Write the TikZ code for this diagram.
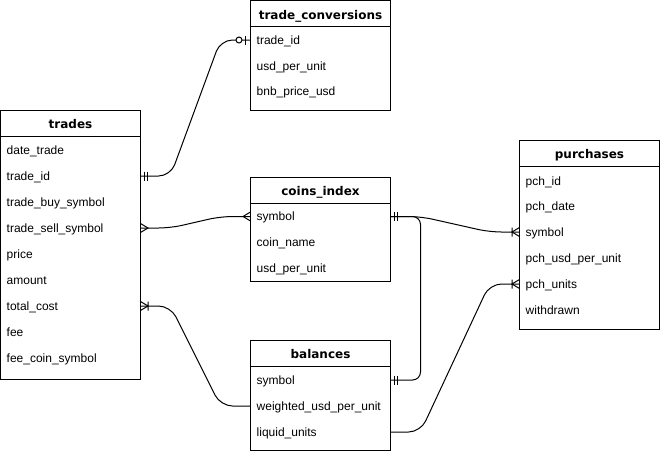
\documentclass[tikz,border=0pt]{standalone}
\usepackage{fontspec}
\setmainfont{Liberation Sans}
\newfontfamily\ttlfont{DejaVu Sans}
\usetikzlibrary{calc}
\tikzset{
  hdr/.style={draw, line width=1pt, fill=white, minimum width=140pt, minimum height=26pt, inner sep=0pt, outer sep=0pt, anchor=north west},
  tbody/.style={draw, line width=1pt, fill=white, minimum width=140pt, inner sep=0pt, outer sep=0pt, anchor=north},
  ttl/.style={anchor=base, inner sep=0pt, font=\ttlfont\bfseries\fontsize{12}{14}\selectfont},
  rowtxt/.style={anchor=west, inner sep=0pt, text height=9pt, text depth=1pt, font=\fontsize{12}{14}\selectfont},
  conn/.style={draw, line width=1pt, rounded corners=12pt},
  mk/.style={line width=1pt},
  mandone/.pic={\draw[mk] (3.8,-4.5)--(3.8,4.5) (7.3,-4.5)--(7.3,4.5);},
  crowmany/.pic={\draw[mk] (0,-4.5)--(7.5,0)--(0,4.5);},
  onemany/.pic={\draw[mk] (0,-4.5)--(7.5,0)--(0,4.5) (7.5,-4.5)--(7.5,4.5);},
  zeroone/.pic={\draw[mk] (5,-4.5)--(5,4.5); \draw[mk, fill=white] (11.5,0) circle (3pt);},
}
\begin{document}
\begin{tikzpicture}[x=1pt, y=-1pt]
\useasboundingbox (0,0) rectangle (661,451);

% trade_conversions
\node[hdr] (tc-h) at (250.5,0.5) {};
\node[tbody, minimum height=84pt] (tc) at (tc-h.south) {};
\node[ttl] (tc-t) at ($(tc-h.north)+(0,18.5)$) {trade\_conversions};
\node[rowtxt] (tc-id) at (256.5,40) {trade\_id};
\node[rowtxt] (tc-usd) at (256.5,66) {usd\_per\_unit};
\node[rowtxt] (tc-bnb) at (256.5,91.5) {bnb\_price\_usd};

% trades
\node[hdr] (tr-h) at (0.5,110.5) {};
\node[tbody, minimum height=243pt] (tr) at (tr-h.south) {};
\node[ttl] (tr-t) at ($(tr-h.north)+(0,18)$) {trades};
\node[rowtxt] (tr-date) at (6.5,150) {date\_trade};
\node[rowtxt] (tr-id) at (6.5,176) {trade\_id};
\node[rowtxt] (tr-buy) at (6.5,202) {trade\_buy\_symbol};
\node[rowtxt] (tr-sell) at (6.5,228) {trade\_sell\_symbol};
\node[rowtxt] (tr-price) at (6.5,254) {price};
\node[rowtxt] (tr-amt) at (6.5,280) {amount};
\node[rowtxt] (tr-tot) at (6.5,306) {total\_cost};
\node[rowtxt] (tr-fee) at (6.5,332) {fee};
\node[rowtxt] (tr-fcs) at (6.5,358) {fee\_coin\_symbol};

% coins_index
\node[hdr] (ci-h) at (250.5,177.5) {};
\node[tbody, minimum height=78pt] (ci) at (ci-h.south) {};
\node[ttl] (ci-t) at ($(ci-h.north)+(0,18)$) {coins\_index};
\node[rowtxt] (ci-sym) at (256.5,216.5) {symbol};
\node[rowtxt] (ci-name) at (256.5,242.5) {coin\_name};
\node[rowtxt] (ci-usd) at (256.5,268.5) {usd\_per\_unit};

% balances
\node[hdr] (bal-h) at (250.5,340.5) {};
\node[tbody, minimum height=84pt] (bal) at (bal-h.south) {};
\node[ttl] (bal-t) at ($(bal-h.north)+(0,18)$) {balances};
\node[rowtxt] (bal-sym) at (256.5,380) {symbol};
\node[rowtxt] (bal-wu) at (256.5,406) {weighted\_usd\_per\_unit};
\node[rowtxt] (bal-liq) at (256.5,432) {liquid\_units};

% purchases
\node[hdr] (pu-h) at (519.5,140.5) {};
\node[tbody, minimum height=163pt] (pu) at (pu-h.south) {};
\node[ttl] (pu-t) at ($(pu-h.north)+(0,18)$) {purchases};
\node[rowtxt] (pu-id) at (525.5,181) {pch\_id};
\node[rowtxt] (pu-date) at (525.5,206.5) {pch\_date};
\node[rowtxt] (pu-sym) at (525.5,232) {symbol};
\node[rowtxt] (pu-usd) at (525.5,258) {pch\_usd\_per\_unit};
\node[rowtxt] (pu-units) at (525.5,284) {pch\_units};
\node[rowtxt] (pu-wd) at (525.5,310) {withdrawn};

% connectors
\draw[conn] (tr.east |- tr-id) -- ++(30,0) -- ($(tc.west |- tc-id)+(-30,0)$) -- (tc.west |- tc-id);
\draw[conn] (tr.east |- tr-sell) -- ++(30,0) -- ($(ci.west |- ci-sym)+(-30,0)$) -- (ci.west |- ci-sym);
\draw[conn] (tr.east |- tr-tot) -- ++(30,0) -- ($(bal.west |- bal-wu)+(-30,0)$) -- (bal.west |- bal-wu);
\draw[conn] (ci.east |- ci-sym) -- ++(30,0) -- ($(pu.west |- pu-sym)+(-30,0)$) -- (pu.west |- pu-sym);
\draw[conn, rounded corners=8pt] (ci.east |- ci-sym) -- ++(30,0) -- ($(bal.east |- bal-sym)+(30,0)$) -- (bal.east |- bal-sym);
\draw[conn] (bal.east |- bal-liq) -- ++(30,0) -- ($(pu.west |- pu-units)+(-30,0)$) -- (pu.west |- pu-units);

% markers
\pic at (tr.east |- tr-id) {mandone};
\pic[rotate=180] at (tc.west |- tc-id) {zeroone};
\pic at (tr.east |- tr-sell) {crowmany};
\pic[rotate=180] at (ci.west |- ci-sym) {crowmany};
\pic at (tr.east |- tr-tot) {onemany};
\pic at (ci.east |- ci-sym) {mandone};
\pic[rotate=180] at (pu.west |- pu-sym) {onemany};
\pic at (bal.east |- bal-sym) {mandone};
\pic[rotate=180] at (pu.west |- pu-units) {onemany};
\end{tikzpicture}
\end{document}
